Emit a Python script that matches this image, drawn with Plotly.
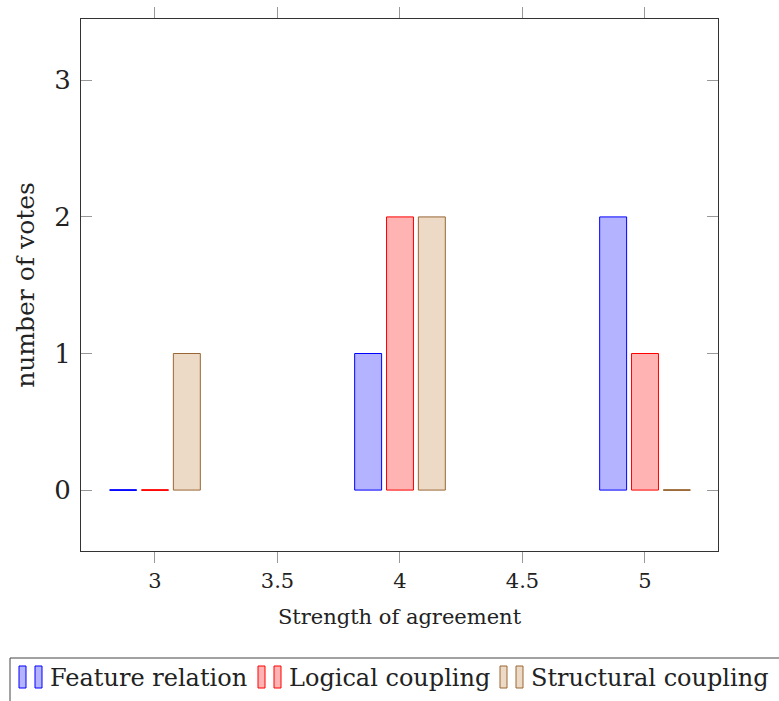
import plotly.graph_objects as go

categories = [3, 4, 5]
series_names = ["Feature relation", "Logical coupling", "Structural coupling"]
feature_relation = [0, 1, 2]
logical_coupling = [0, 2, 1]
structural_coupling = [1, 2, 0]
y_ticks = [0, 1, 2, 3]
x_ticks = [3, 3.5, 4, 4.5, 5]

series_values = [feature_relation, logical_coupling, structural_coupling]
fills = ["rgb(179,179,255)", "rgb(255,179,179)", "rgb(236,217,198)"]
edges = ["rgb(0,0,255)", "rgb(255,0,0)", "rgb(153,102,51)"]
shifts = [-0.13, 0.0, 0.13]
bar_w = 0.11

FONT = "DejaVu Serif"
W, H = 779, 701
L, R, T, B = 81, 718, 19, 551


def px(xpix):
    return (xpix - L) / (R - L)


def py(ypix):
    return (B - ypix) / (B - T)


fig = go.Figure()
for name, vals, fc, ec, sh in zip(series_names, series_values, fills, edges, shifts):
    fig.add_trace(go.Bar(
        x=categories, y=vals, name=name,
        width=bar_w, offset=sh - bar_w / 2,
        marker=dict(color=fc, line=dict(color=ec, width=1)),
        showlegend=False,
    ))
    # zero-valued bars rendered as a flat edge line
    for c, v in zip(categories, vals):
        if v == 0:
            fig.add_trace(go.Scatter(
                x=[c + sh - bar_w / 2, c + sh + bar_w / 2], y=[v, v],
                mode="lines", line=dict(color=ec, width=1.5),
                showlegend=False, hoverinfo="skip",
            ))

# legend drawn as in pgfplots: framed box with two-bar icons
shapes = [dict(type="rect", xref="paper", yref="paper",
               x0=px(10), x1=px(790), y0=py(658), y1=py(712),
               line=dict(color="#444", width=1), fillcolor="rgba(0,0,0,0)", layer="above")]
annotations = []
icon_x = [19, 258, 500]
text_x = [48, 287, 529]
for name, fc, ec, ix, tx in zip(series_names, fills, edges, icon_x, text_x):
    for dx in (0, 16):
        shapes.append(dict(type="rect", xref="paper", yref="paper",
                           x0=px(ix + dx), x1=px(ix + dx + 7), y0=py(688), y1=py(666),
                           line=dict(color=ec, width=1), fillcolor=fc, layer="above"))
    annotations.append(dict(text=name, xref="paper", yref="paper",
                            x=px(tx), y=py(678), xanchor="left", yanchor="middle",
                            showarrow=False, font=dict(size=24, family=FONT, color="#222")))

fig.update_layout(
    width=W, height=H,
    margin=dict(l=L, r=W - R, t=T, b=H - B, autoexpand=False),
    barmode="overlay",
    showlegend=False,
    plot_bgcolor="white", paper_bgcolor="white",
    font=dict(family=FONT, color="#222"),
    shapes=shapes, annotations=annotations,
    xaxis=dict(
        range=[2.698, 5.298], tickvals=x_ticks,
        ticktext=[("%g" % t) for t in x_ticks],
        ticks="outside", ticklen=11, tickcolor="#999", tickwidth=1,
        showline=True, linecolor="#333", linewidth=1, mirror="allticks",
        showgrid=False, zeroline=False,
        tickfont=dict(size=21, family=FONT),
        title=dict(text="Strength of agreement", font=dict(size=21, family=FONT), standoff=17),
    ),
    yaxis=dict(
        range=[-0.446, 3.449], tickvals=y_ticks,
        ticks="inside", ticklen=11, tickcolor="#999", tickwidth=1,
        showline=True, linecolor="#333", linewidth=1, mirror="allticks",
        showgrid=False, zeroline=False,
        tickfont=dict(size=26, family=FONT),
        ticklabelstandoff=4,
        title=dict(text="number of votes", font=dict(size=25, family=FONT), standoff=12),
    ),
)

fig.write_html("out.html")
